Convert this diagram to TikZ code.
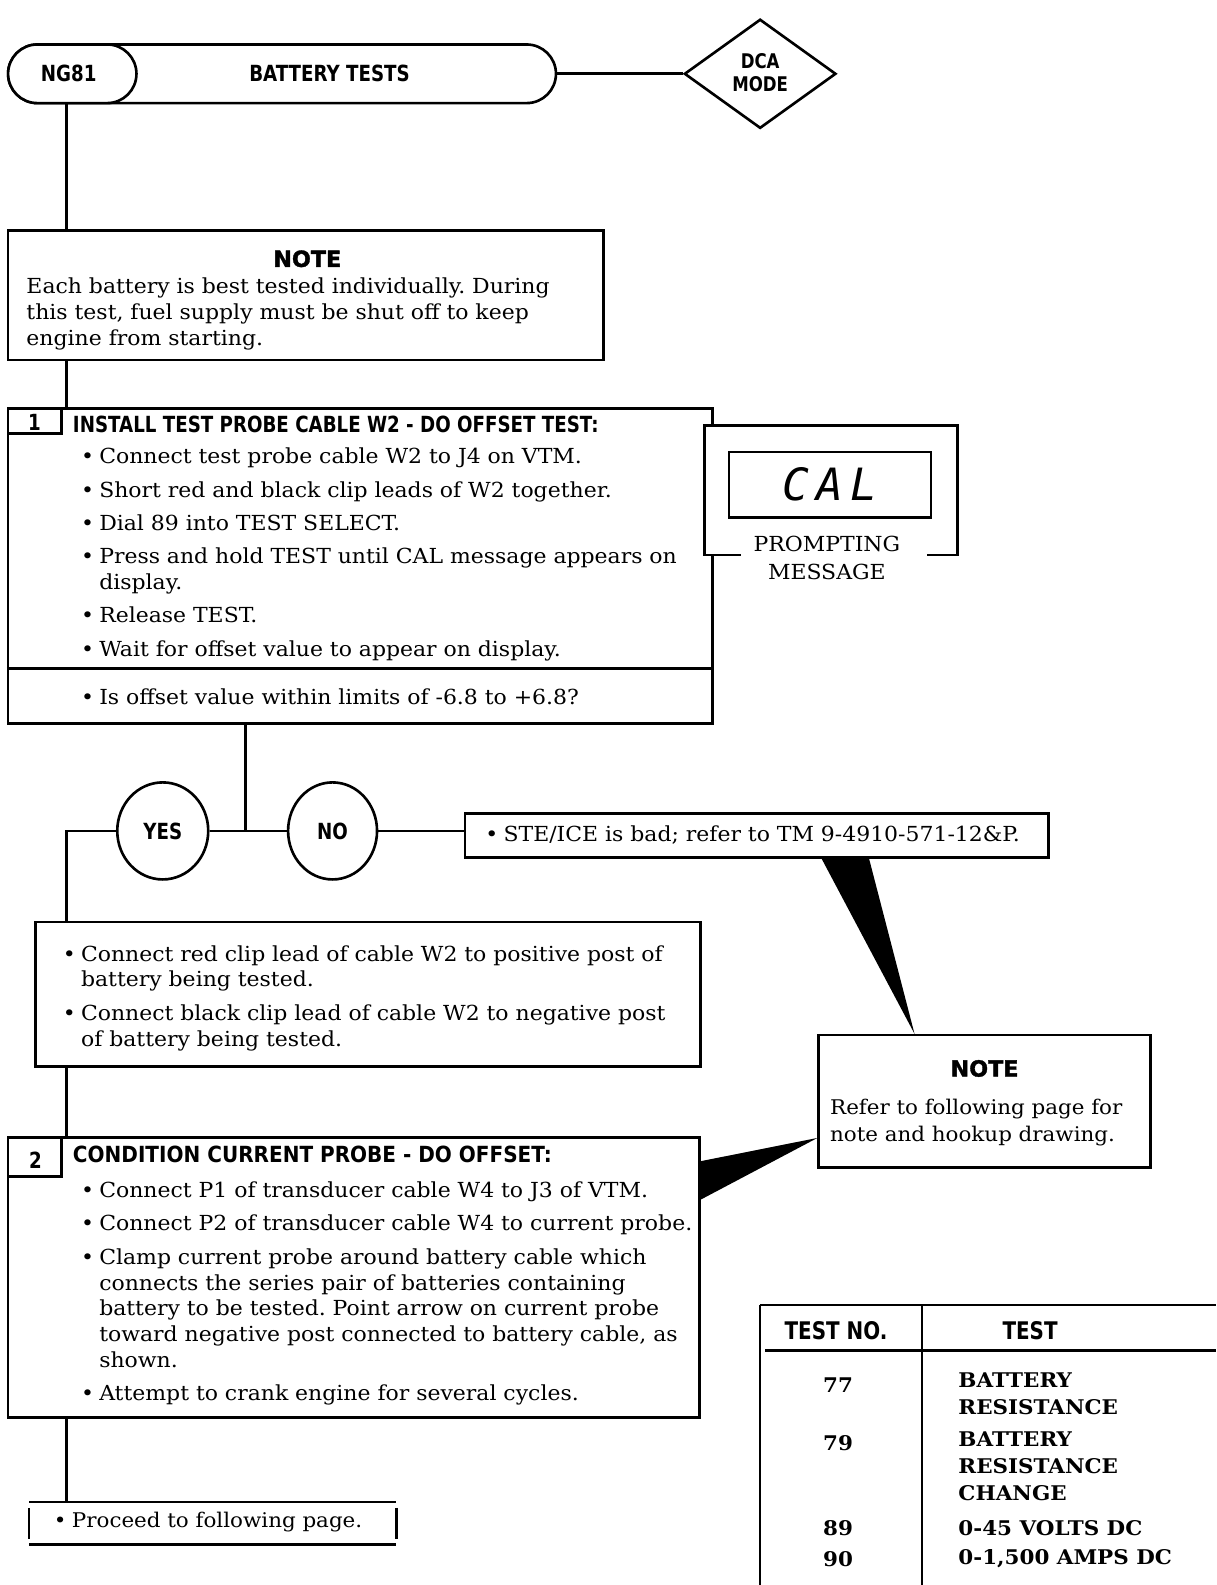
\documentclass[tikz,border=0pt]{standalone}
\usepackage{fontspec}
\setmainfont{DejaVu Serif}[FakeStretch=1.06]
\newfontfamily\condf{DejaVu Sans}[FakeStretch=0.82]
\newfontfamily\condwf{DejaVu Sans}[FakeStretch=0.9]
\newfontfamily\heavyf{DejaVu Sans}[BoldFeatures={FakeBold=1.6}]
\newfontfamily\lcdf{DejaVu Sans Mono}
\usetikzlibrary{shapes.geometric}
\frenchspacing

% one bullet paragraph with hanging indent
\newcommand{\bitem}[1]{\hangindent=18pt\hangafter=1\noindent\hbox to 18pt{\textbullet\hfil}#1\par}

\tikzset{
  box/.style={draw, line width=2.6pt, inner sep=0pt},
  conn/.style={line width=2.6pt},
  hd/.style={font=\condf\bfseries\fontsize{22}{24}\selectfont, inner sep=0pt, align=center},
  notehd/.style={font=\heavyf\bfseries\fontsize{22}{24}\selectfont, inner sep=0pt},
  txt/.style={anchor=north west, inner sep=0pt, align=left, text width=760pt,
    font=\fontsize{20.5}{25.5}\selectfont, execute at begin node={\setlength{\parskip}{7.5pt}}},
  tab/.style={font=\bfseries\fontsize{20}{27}\selectfont, inner sep=0pt, align=left}
}

\begin{document}
\begin{tikzpicture}[x=1pt, y=-1pt]
\useasboundingbox (0,0) rectangle (1203,1568);
\coordinate (spine) at (66,0);
\coordinate (jn) at (243,822);

% title bar
\node[box, rounded corners=29pt, minimum width=542pt, minimum height=58pt] (term) at (279,73) {};
\node[box, fill=white, rounded corners=29pt, minimum width=127pt, minimum height=58pt] (ng) at (71.5,73) {};
\node[hd] (ngt) at (68,73) {NG81};
\node[hd] (ttl) at (326,73) {BATTERY TESTS};
\node[box, diamond, minimum width=150pt, minimum height=108pt] (dca) at (752,73) {};
\node[hd, font=\condf\bfseries\fontsize{20}{23}\selectfont] (dcat) at (752,72) {DCA\\MODE};
\draw[conn] (term.east) -- (dca.west);

% first note
\node[box, minimum width=589pt, minimum height=128pt] (note1) at (302.5,292) {};
\node[notehd] (note1h) at (304,256) {NOTE};
\node[txt] (note1t) at (26,275) {Each battery is best tested individually. During\newline this test, fuel supply must be shut off to keep\newline engine from starting.};
\draw[conn] (ng.south -| spine) -- (note1.north -| spine);

% step 1
\node[box, minimum width=697pt, minimum height=312pt] (s1) at (356.5,560) {};
\draw[conn] ([xshift=54pt]s1.north west) |- ([yshift=-26pt]s1.north west);
\node[hd] (s1n) at (34,418) {1};
\node[hd, anchor=west] (s1h) at (72,420) {INSTALL TEST PROBE CABLE W2 - DO OFFSET TEST:};
\node[txt] (s1t) at (80,443) {\bitem{Connect test probe cable W2 to J4 on VTM.}
\bitem{Short red and black clip leads of W2 together.}
\bitem{Dial 89 into TEST SELECT.}
\bitem{Press and hold TEST until CAL message appears on\newline display.}
\bitem{Release TEST.}
\bitem{Wait for offset value to appear on display.}};
\draw[conn] ([yshift=56pt]s1.south west) -- ([yshift=56pt]s1.south east);
\node[txt] (s1q) at (80,681) {\bitem{Is offset value within limits of -6.8 to +6.8?}};
\draw[conn] (note1.south -| spine) -- (s1.north -| spine);

% prompting message
\node[fill=white, minimum width=250pt, minimum height=128pt] (prm) at (822,485) {};
\draw[conn] ([xshift=36pt]prm.south west) -- (prm.south west) -- (prm.north west)
  -- (prm.north east) -- (prm.south east) -- ([xshift=-30pt]prm.south east);
\node[box, minimum width=200pt, minimum height=65pt, font=\lcdf\itshape\fontsize{44}{44}\selectfont] (disp) at (821,479.5) {C\,A\,L};
\node[font=\fontsize{20.5}{28}\selectfont, align=center, inner sep=0pt] (prmt) at (818,552) {PROMPTING\\MESSAGE};

% decision
\node[box, ellipse, minimum width=90pt, minimum height=96pt] (yes) at (161,822) {};
\node[hd] (yest) at (161,822) {YES};
\node[box, ellipse, minimum width=88pt, minimum height=96pt] (no) at (329,822) {};
\node[hd] (not) at (329,822) {NO};
\draw[conn] (s1.south -| jn) -- (jn);
\draw[conn] (yes.east) -- (no.west);

\node[box, minimum width=577pt, minimum height=43pt] (ste) at (748.5,826.5) {};
\node[txt, anchor=west] (stet) at (480,826) {\bitem{STE/ICE is bad; refer to TM 9-4910-571-12\&P.}};
\draw[conn] (no.east) -- (no.east -| ste.west);

% yes branch
\node[box, minimum width=658pt, minimum height=143pt] (yesbox) at (364,983.5) {};
\node[txt] (yest2) at (62,935) {\bitem{Connect red clip lead of cable W2 to positive post of\newline battery being tested.}
\bitem{Connect black clip lead of cable W2 to negative post\newline of battery being tested.}};
\draw[conn] (yes.west) -| (yesbox.north -| spine);

% second note
\node[box, minimum width=328pt, minimum height=131pt] (note2) at (974,1089.5) {};
\node[notehd] (note2h) at (974,1057) {NOTE};
\node[txt, font=\fontsize{20}{27}\selectfont] (note2t) at (821,1087) {Refer to following page for\newline note and hookup drawing.};
\fill ([xshift=354pt]ste.south west) -- ([xshift=401pt]ste.south west) -- ([xshift=96pt]note2.north west) -- cycle;

% step 2
\node[box, minimum width=684pt, minimum height=277pt] (s2) at (350,1263.5) {};
\draw[conn] ([xshift=54pt]s2.north west) |- ([yshift=-40pt]s2.north west);
\node[hd] (s2n) at (35,1148) {2};
\node[hd, anchor=west, font=\condwf\bfseries\fontsize{22}{24}\selectfont] (s2h) at (72,1142) {CONDITION CURRENT PROBE - DO OFFSET:};
\node[txt] (s2t) at (80,1169) {\bitem{Connect P1 of transducer cable W4 to J3 of VTM.}
\bitem{Connect P2 of transducer cable W4 to current probe.}
\bitem{Clamp current probe around battery cable which\newline connects the series pair of batteries containing\newline battery to be tested. Point arrow on current probe\newline toward negative post connected to battery cable, as\newline shown.}
\bitem{Attempt to crank engine for several cycles.}};
\draw[conn] (yesbox.south -| spine) -- (s2.north -| spine);
\fill ([yshift=-25pt]s2.north east) -- ([yshift=-103pt]note2.north west) -- ([yshift=-63pt]s2.north east) -- cycle;

% last box
\node[minimum width=363pt, minimum height=42pt, inner sep=0pt] (pro) at (210.5,1507) {};
\draw[conn] (pro.north west) -- (pro.north east);
\draw[conn] (pro.south west) -- (pro.south east);
\draw[conn] ([yshift=-6pt]pro.north west) -- ([yshift=6pt]pro.south west);
\draw[conn] ([yshift=-6pt]pro.north east) -- ([yshift=6pt]pro.south east);
\node[txt, anchor=west, font=\fontsize{20}{24}\selectfont] (prot) at (53,1506) {\bitem{Proceed to following page.}};
\draw[conn] (s2.south -| spine) -- (pro.north -| spine);

% test table
\draw[conn] (752,1291) -- (1203,1291);
\draw[conn] (752,1291) -- (752,1568);
\draw[conn] (757,1336) -- (1203,1336);
\draw[conn] (912,1291) -- (912,1568);
\node[hd, font=\condf\bfseries\fontsize{24}{26}\selectfont] (th1) at (827,1316) {TEST NO.};
\node[hd, font=\condf\bfseries\fontsize{24}{26}\selectfont] (th2) at (1019,1316) {TEST};
\node[tab] (n77) at (829,1370) {77};
\node[tab, anchor=north west] (d77) at (948,1358) {BATTERY\\RESISTANCE};
\node[tab] (n79) at (829,1428) {79};
\node[tab, anchor=north west] (d79) at (948,1416) {BATTERY\\RESISTANCE\\CHANGE};
\node[tab] (n89) at (829,1512) {89};
\node[tab, anchor=west] (d89) at (948,1512) {0-45 VOLTS DC};
\node[tab] (n90) at (829,1542) {90};
\node[tab, anchor=west] (d90) at (948,1542) {0-1,500 AMPS DC};
\end{tikzpicture}
\end{document}
